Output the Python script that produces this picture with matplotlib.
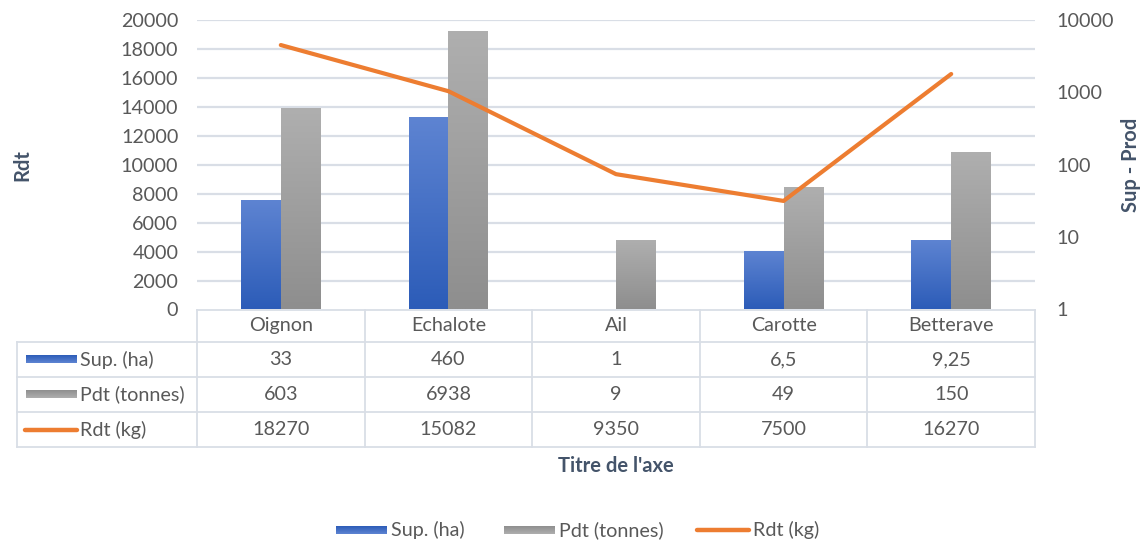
import numpy as np
import matplotlib
matplotlib.use("Agg")
import matplotlib.pyplot as plt
from matplotlib.colors import LinearSegmentedColormap

# ---- data ----
categories = ["Oignon", "Echalote", "Ail", "Carotte", "Betterave"]
sup_ha = [33, 460, 1, 6.5, 9.25]
pdt_tonnes = [603, 6938, 9, 49, 150]
rdt_kg = [18270, 15082, 9350, 7500, 16270]
series_names = ["Sup. (ha)", "Pdt (tonnes)", "Rdt (kg)"]
left_ticks = list(range(0, 20001, 2000))
right_ticks = [1, 10, 100, 1000, 10000]

W, H = 1147, 548
FONT = ["Lato", "DejaVu Sans"]
plt.rcParams["font.family"] = FONT
TXT = "#595959"
TITLE = "#44546A"
GRID = "#D9DEE6"
BLUE_TOP, BLUE_BOT = "#5E84D2", "#2C5CB8"
GRAY_TOP, GRAY_BOT = "#AFAFAF", "#8E8E8E"
ORANGE = "#ED7D31"
FS = 14.2
FS_TITLE = 14.5

fig = plt.figure(figsize=(W / 100, H / 100), dpi=100)

# plot area in pixels
PX0, PX1, PY0, PY1 = 197, 1035, 20, 309.5


def fig_rect(x0, y0, x1, y1):
    return [x0 / W, 1 - y1 / H, (x1 - x0) / W, (y1 - y0) / H]


ax_r = fig.add_axes(fig_rect(PX0, PY0, PX1, PY1))   # bars, log scale
ax_l = ax_r.twinx()                                  # line, linear scale
ax_l.set_zorder(ax_r.get_zorder() + 1)
ax_l.patch.set_visible(False)

n = len(categories)
x = np.arange(n)
ax_r.set_xlim(-0.5, n - 0.5)
ax_r.set_yscale("log")
ax_r.set_ylim(1, 10000)
ax_l.set_ylim(0, 20000)

# linear axis on the left, log axis on the right
ax_l.yaxis.tick_left()
ax_r.yaxis.tick_right()
ax_l.set_yticks(left_ticks)
ax_l.set_yticklabels([str(v) for v in left_ticks])
ax_r.set_yticks(right_ticks)
ax_r.set_yticklabels([str(v) for v in right_ticks])
ax_r.yaxis.set_minor_locator(matplotlib.ticker.NullLocator())
for a in (ax_l, ax_r):
    a.tick_params(axis="y", length=0, labelsize=FS, colors=TXT)
    a.set_xticks([])
    for s in a.spines.values():
        s.set_visible(False)
ax_l.tick_params(axis="y", pad=13.5)
ax_r.tick_params(axis="y", pad=15.5)

# horizontal gridlines following the linear axis
for v in left_ticks[1:]:
    ax_r.plot([0, 1], [v, v], transform=ax_l.get_yaxis_transform(),
              color=GRID, lw=1.6, zorder=0.5)

# bars on log axis (bars grow from 1)
bw = 0.238
cmap_blue = LinearSegmentedColormap.from_list("b", [BLUE_BOT, BLUE_TOP])
cmap_gray = LinearSegmentedColormap.from_list("g", [GRAY_BOT, GRAY_TOP])
grad = np.linspace(0, 1, 256).reshape(-1, 1)

fig.canvas.draw()
data_to_axes = ax_r.transData + ax_r.transAxes.inverted()
for vals, off, cmap in ((sup_ha, -bw / 2, cmap_blue), (pdt_tonnes, bw / 2, cmap_gray)):
    heights = np.array(vals, dtype=float) - 1
    bars = ax_r.bar(x + off, heights, bw, bottom=1, color="none",
                    edgecolor="none", zorder=2)
    for b, v in zip(bars, vals):
        if v <= 1:
            continue
        (ax0, ay0), (ax1, ay1) = data_to_axes.transform(
            [(b.get_x(), 1), (b.get_x() + b.get_width(), v)])
        im = ax_r.imshow(grad, cmap=cmap, origin="lower", aspect="auto",
                         extent=[ax0, ax1, ay0, ay1], transform=ax_r.transAxes,
                         zorder=2, interpolation="bilinear")
        im.set_clip_path(b)
ax_r.set_xlim(-0.5, n - 0.5)
ax_r.set_ylim(1, 10000)

# line on linear axis
ax_l.plot(x, rdt_kg, color=ORANGE, lw=3.0, solid_capstyle="round",
          solid_joinstyle="round", zorder=3)

# axis titles
fig.text(22 / W, 1 - 165 / H, "Rdt", rotation=90, ha="center", va="center",
         fontsize=FS_TITLE, fontweight="bold", color=TITLE)
fig.text(1131 / W, 1 - 165 / H, "Sup - Prod", rotation=90, ha="center",
         va="center", fontsize=FS_TITLE, fontweight="bold", color=TITLE)
fig.text(616 / W, 1 - 466 / H, "Titre de l'axe", ha="center", va="center",
         fontsize=FS_TITLE, fontweight="bold", color=TITLE)

# ---- data table and legend drawn on a pixel overlay ----
ov = fig.add_axes([0, 0, 1, 1], zorder=5)
ov.set_xlim(0, W)
ov.set_ylim(H, 0)
ov.axis("off")
ov.patch.set_visible(False)

TX0 = 17
col_w = (PX1 - PX0) / n
rows_y = [309.5, 342, 377, 412, 447]
TGRID = "#D9DEE6"
lw_t = 1.3
ov.plot([PX0, PX1], [rows_y[0]] * 2, color=TGRID, lw=lw_t)
for yy in rows_y[1:]:
    ov.plot([TX0, PX1], [yy, yy], color=TGRID, lw=lw_t)
ov.plot([TX0, TX0], [rows_y[1], rows_y[-1]], color=TGRID, lw=lw_t)
for i in range(n + 1):
    xx = PX0 + i * col_w
    ov.plot([xx, xx], [rows_y[0], rows_y[-1]], color=TGRID, lw=lw_t)


def fmt(v):
    s = ("%g" % v)
    return s.replace(".", ",")


for i, c in enumerate(categories):
    cx = PX0 + (i + 0.5) * col_w
    ov.text(cx, (rows_y[0] + rows_y[1]) / 2, c, ha="center", va="center",
            fontsize=FS, color=TXT)
    for r, vals in enumerate((sup_ha, pdt_tonnes, rdt_kg)):
        ov.text(cx, (rows_y[r + 1] + rows_y[r + 2]) / 2, fmt(vals[i]),
                ha="center", va="center", fontsize=FS, color=TXT)


def grad_rect(x0, x1, yc, h, cmap):
    ov.imshow(grad, cmap=cmap, origin="upper", aspect="auto",
              extent=[x0, x1, yc + h / 2, yc - h / 2], zorder=6,
              interpolation="bilinear")


for r, name in enumerate(series_names):
    yc = (rows_y[r + 1] + rows_y[r + 2]) / 2
    if r == 0:
        grad_rect(26, 77, yc, 8, cmap_blue)
    elif r == 1:
        grad_rect(26, 77, yc, 8, cmap_gray)
    else:
        ov.plot([25, 77], [yc, yc], color=ORANGE, lw=3.2,
                solid_capstyle="round")
    ov.text(80, yc, name, ha="left", va="center", fontsize=FS, color=TXT)

# bottom legend
ly = 530
grad_rect(336, 387, ly, 8, cmap_blue)
ov.text(391, ly, series_names[0], ha="left", va="center", fontsize=FS, color=TXT)
grad_rect(504, 555, ly, 8, cmap_gray)
ov.text(559, ly, series_names[1], ha="left", va="center", fontsize=FS, color=TXT)
ov.plot([697, 749], [ly, ly], color=ORANGE, lw=3.2, solid_capstyle="round")
ov.text(753, ly, series_names[2], ha="left", va="center", fontsize=FS, color=TXT)
ov.set_xlim(0, W)
ov.set_ylim(H, 0)

fig.savefig("out.png", dpi=100)
